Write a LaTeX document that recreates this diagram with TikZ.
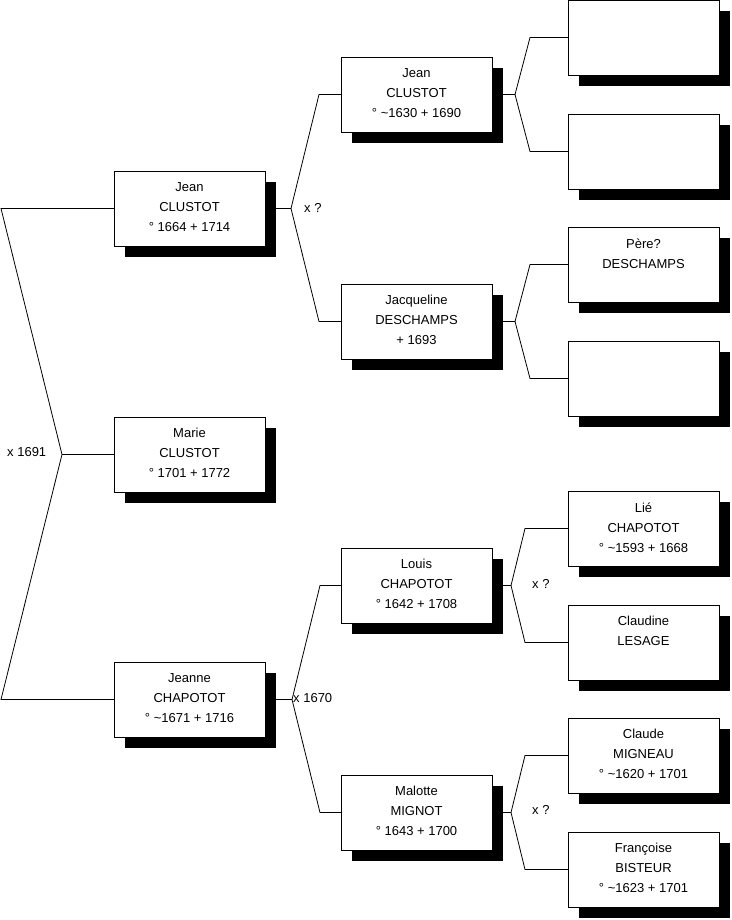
\documentclass[tikz,border=0pt]{standalone}
\usepackage{fontspec}
\setmainfont{Liberation Sans}
\usetikzlibrary{shadows}
\begin{document}
\begin{tikzpicture}[x=1pt,y=-1pt,
  box/.style={draw=black,line width=0.8pt,fill=white,minimum width=151pt,minimum height=75pt,
    inner sep=0pt,outer sep=0pt,anchor=north west,
    drop shadow={shadow xshift=11pt,shadow yshift=-11pt,fill=black,opacity=1}},
  txt/.style={anchor=north,inner sep=0pt,align=center,
    font={\fontsize{13pt}{20pt}\selectfont}},
  lbl/.style={anchor=west,inner sep=0pt,font={\fontsize{13pt}{16pt}\selectfont}},
  con/.style={draw=black,line width=0.8pt}]
\useasboundingbox (0,0) rectangle (731,920);

% column 1
\node[box] (jean1) at (114,171) {};
\node[box] (marie) at (114,417) {};
\node[box] (jeanne1) at (114,662) {};
% column 2
\node[box] (jean2) at (341,57) {};
\node[box] (jacq) at (341,284) {};
\node[box] (louis) at (341,548) {};
\node[box] (malotte) at (341,775) {};
% column 3
\node[box] (g1) at (568,0) {};
\node[box] (g2) at (568,114) {};
\node[box] (g3) at (568,227) {};
\node[box] (g4) at (568,341) {};
\node[box] (g5) at (568,491) {};
\node[box] (g6) at (568,605) {};
\node[box] (g7) at (568,718) {};
\node[box] (g8) at (568,832) {};

% texts
\node[txt] (tjean1) at ([yshift=-11.3pt]jean1.north) {Jean\\CLUSTOT\\° 1664 + 1714};
\node[txt] (tmarie) at ([yshift=-11.3pt]marie.north) {Marie\\CLUSTOT\\° 1701 + 1772};
\node[txt] (tjeanne1) at ([yshift=-11.3pt]jeanne1.north) {Jeanne\\CHAPOTOT\\° \textasciitilde1671 + 1716};
\node[txt] (tjean2) at ([yshift=-11.3pt]jean2.north) {Jean\\CLUSTOT\\° \textasciitilde1630 + 1690};
\node[txt] (tjacq) at ([yshift=-11.3pt]jacq.north) {Jacqueline\\DESCHAMPS\\+ 1693};
\node[txt] (tlouis) at ([yshift=-11.3pt]louis.north) {Louis\\CHAPOTOT\\° 1642 + 1708};
\node[txt] (tmalotte) at ([yshift=-11.3pt]malotte.north) {Malotte\\MIGNOT\\° 1643 + 1700};
\node[txt] (tg3) at ([yshift=-11.3pt]g3.north) {Père?\\DESCHAMPS};
\node[txt] (tg5) at ([yshift=-11.3pt]g5.north) {Lié\\CHAPOTOT\\° \textasciitilde1593 + 1668};
\node[txt] (tg6) at ([yshift=-11.3pt]g6.north) {Claudine\\LESAGE};
\node[txt] (tg7) at ([yshift=-11.3pt]g7.north) {Claude\\MIGNEAU\\° \textasciitilde1620 + 1701};
\node[txt] (tg8) at ([yshift=-11.3pt]g8.north) {Françoise\\BISTEUR\\° \textasciitilde1623 + 1701};

% root fork
\coordinate (rv) at ([xshift=-52pt]marie.west);
\draw[con] (jean1.west) -- ([xshift=-113pt]jean1.west) -- (rv) -- ([xshift=-113pt]jeanne1.west) -- (jeanne1.west);
\draw[con] (rv) -- (marie.west);

% column 1 -> column 2
\coordinate (v1) at ([xshift=26pt]jean1.east);
\draw[con] (jean1.east) -- (v1) -- ([xshift=-22pt]jean2.west) -- (jean2.west);
\draw[con] (v1) -- ([xshift=-22pt]jacq.west) -- (jacq.west);
\coordinate (v2) at ([xshift=27pt]jeanne1.east);
\draw[con] (jeanne1.east) -- (v2) -- ([xshift=-21pt]louis.west) -- (louis.west);
\draw[con] (v2) -- ([xshift=-21pt]malotte.west) -- (malotte.west);

% column 2 -> column 3
\coordinate (v3) at ([xshift=23pt]jean2.east);
\draw[con] (jean2.east) -- (v3) -- ([xshift=-38pt]g1.west) -- (g1.west);
\draw[con] (v3) -- ([xshift=-38pt]g2.west) -- (g2.west);
\coordinate (v4) at ([xshift=23pt]jacq.east);
\draw[con] (jacq.east) -- (v4) -- ([xshift=-38pt]g3.west) -- (g3.west);
\draw[con] (v4) -- ([xshift=-38pt]g4.west) -- (g4.west);
\coordinate (v5) at ([xshift=19pt]louis.east);
\draw[con] (louis.east) -- (v5) -- ([xshift=-43pt]g5.west) -- (g5.west);
\draw[con] (v5) -- ([xshift=-43pt]g6.west) -- (g6.west);
\coordinate (v6) at ([xshift=19pt]malotte.east);
\draw[con] (malotte.east) -- (v6) -- ([xshift=-43pt]g7.west) -- (g7.west);
\draw[con] (v6) -- ([xshift=-43pt]g8.west) -- (g8.west);

% marriage labels
\node[lbl] (m1) at (7,452) {x 1691};
\node[lbl] (m2) at (304,207.5) {x ?};
\node[lbl] (m3) at (293,698) {x 1670};
\node[lbl] (m4) at (532,584) {x ?};
\node[lbl] (m5) at (532,810) {x ?};
\end{tikzpicture}
\end{document}
